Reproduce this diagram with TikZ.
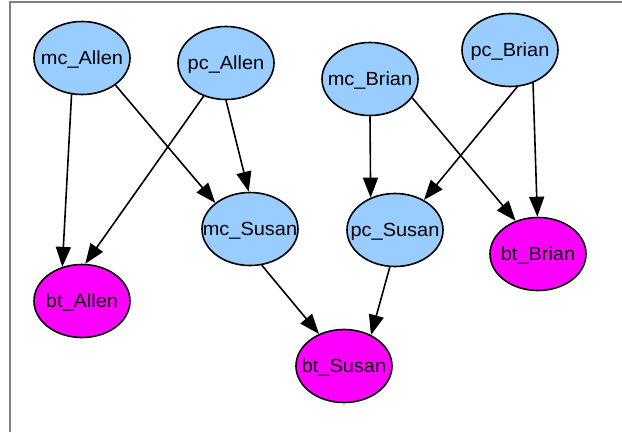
\documentclass[tikz,border=0pt]{standalone}
\usepackage{fontspec}
\setmainfont[FakeStretch=1.05]{Liberation Sans}
\usetikzlibrary{shapes.geometric,arrows.meta}
\definecolor{parentblue}{HTML}{99CCFF}
\definecolor{childpink}{HTML}{FF00FF}
\definecolor{framegray}{HTML}{808080}
% label of zero size, its capitals centred on the node centre
\newcommand{\vlabel}[1]{\makebox[0pt][c]{\raisebox{-0.36em}[0pt][0pt]{#1}}}
\tikzset{
  varnode/.style={ellipse, draw=black, line width=1.6pt, inner sep=0pt,
    minimum width=96pt, minimum height=73pt,
    font=\fontsize{19}{19}\selectfont},
  parentnode/.style={varnode, fill=parentblue},
  childnode/.style={varnode, fill=childpink},
  link/.style={draw=black, line width=1.6pt,
    -{Triangle[length=20pt, width=15pt]}},
}
\begin{document}
\begin{tikzpicture}[x=1pt, y=-1pt]
  \useasboundingbox (0,0) rectangle (622,432);
  % frame edges
  \draw[framegray, line width=1.8pt] (10,432) -- (10,2) -- (622,2);

  % variables
  \node[parentnode] (mcA) at (82,58)  {\vlabel{mc\_Allen}};
  \node[parentnode] (pcA) at (226,63) {\vlabel{pc\_Allen}};
  \node[parentnode] (mcB) at (370,79) {\vlabel{mc\_Brian}};
  \node[parentnode] (pcB) at (510,50) {\vlabel{pc\_Brian}};
  \node[parentnode] (mcS) at (250,229) {\vlabel{mc\_Susan}};
  \node[parentnode] (pcS) at (395,230) {\vlabel{pc\_Susan}};
  \node[childnode]  (btA) at (82,301) {\vlabel{bt\_Allen}};
  \node[childnode]  (btB) at (538,254) {\vlabel{bt\_Brian}};
  \node[childnode]  (btS) at (344,366) {\vlabel{bt\_Susan}};

  % dependencies
  \draw[link] (mcA.254) -- (btA.120);
  \draw[link] (mcA.321) -- (mcS.143);
  \draw[link] (pcA.236) -- (btA.85);
  \draw[link] (pcA.270) -- (mcS.92);
  \draw[link] (mcB.270) -- (pcS.127);
  \draw[link] (mcB.336) -- (btB.124);
  \draw[link] (pcB.281) -- (pcS.46);
  \draw[link] (pcB.305) -- (btB.91);
  \draw[link] (mcS.288) -- (btS.128);
  \draw[link] (pcS.262) -- (btS.49);
\end{tikzpicture}
\end{document}
